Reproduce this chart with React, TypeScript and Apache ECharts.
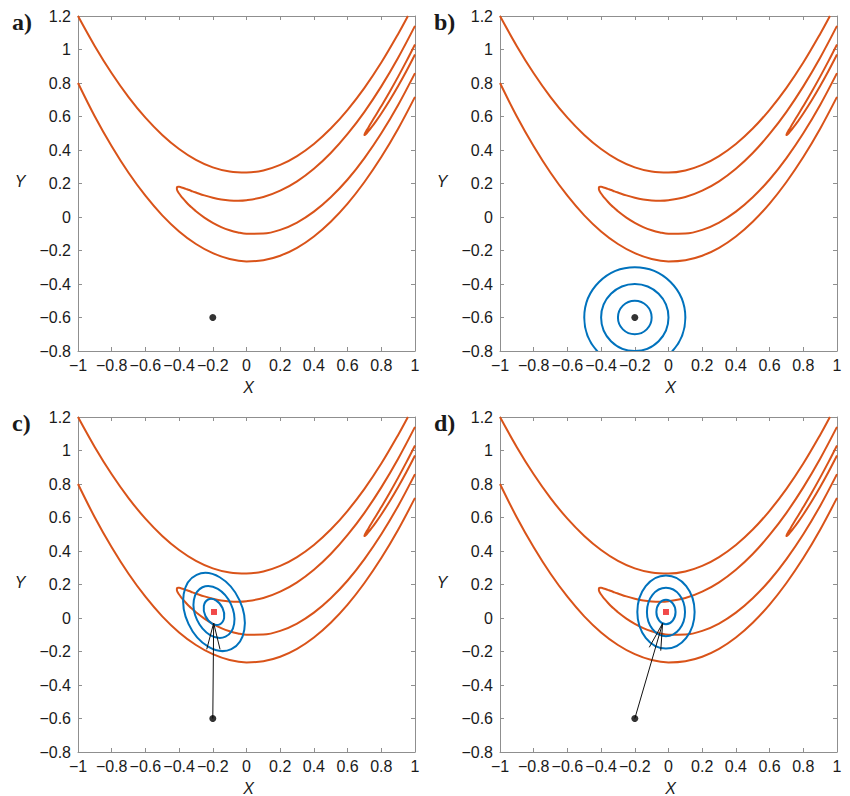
import React, { useEffect, useRef } from 'react';
import * as echarts from 'echarts';

// ---- axis ranges / ticks ----
const X_MIN = -1;
const X_MAX = 1;
const Y_MIN = -0.8;
const Y_MAX = 1.2;
const TICK_STEP = 0.2;
const PANEL_LABELS = ['a)', 'b)', 'c)', 'd)'];

// ---- red contour curves ----
const OUTER_UPPER: number[][] = [
  [-1, 1.2], [-0.9, 1.02], [-0.8, 0.858], [-0.7, 0.716], [-0.6, 0.593], [-0.5, 0.49],
  [-0.4, 0.406], [-0.3, 0.341], [-0.2, 0.296], [-0.1, 0.271], [0, 0.265], [0.1, 0.278],
  [0.2, 0.311], [0.3, 0.364], [0.4, 0.436], [0.5, 0.528], [0.6, 0.64], [0.7, 0.771],
  [0.8, 0.922], [0.9, 1.093], [0.958, 1.2],
];
const OUTER_LOWER: number[][] = [
  [-1, 0.8], [-0.9, 0.6], [-0.8, 0.422], [-0.7, 0.264], [-0.6, 0.127], [-0.5, 0.01],
  [-0.4, -0.086], [-0.3, -0.161], [-0.2, -0.216], [-0.1, -0.251], [0, -0.265], [0.1, -0.258],
  [0.2, -0.231], [0.3, -0.184], [0.4, -0.116], [0.5, -0.028], [0.6, 0.08], [0.7, 0.209],
  [0.8, 0.358], [0.9, 0.527], [1, 0.717],
];
const INNER: number[][] = [
  [1, 1.141], [0.9, 0.951], [0.8, 0.78], [0.7, 0.628], [0.6, 0.496], [0.5, 0.382],
  [0.4, 0.288], [0.3, 0.213], [0.2, 0.157], [0.1, 0.119], [0, 0.1], [-0.05, 0.097],
  [-0.1, 0.099], [-0.15, 0.105], [-0.2, 0.115], [-0.25, 0.129], [-0.3, 0.146], [-0.32, 0.153],
  [-0.34, 0.161], [-0.36, 0.168], [-0.38, 0.175], [-0.39, 0.178], [-0.4, 0.18], [-0.405, 0.18],
  [-0.41, 0.179], [-0.413, 0.176], [-0.4142, 0.172], [-0.413, 0.165], [-0.41, 0.157],
  [-0.405, 0.148], [-0.4, 0.14], [-0.39, 0.126], [-0.38, 0.114], [-0.36, 0.091], [-0.34, 0.07],
  [-0.32, 0.052], [-0.3, 0.034], [-0.25, -0.004], [-0.2, -0.035], [-0.15, -0.06], [-0.1, -0.079],
  [-0.05, -0.092], [0, -0.1], [0.1, -0.099], [0.2, -0.077], [0.3, -0.033], [0.4, 0.032],
  [0.5, 0.118], [0.6, 0.224], [0.7, 0.352], [0.8, 0.5], [0.9, 0.669], [1, 0.859],
];
const SMALL: number[][] = [
  [1, 1.03], [0.95, 0.932], [0.9, 0.838], [0.85, 0.748], [0.8, 0.662], [0.77, 0.612],
  [0.74, 0.563], [0.72, 0.529], [0.71, 0.512], [0.705, 0.503], [0.702, 0.496], [0.7, 0.49],
  [0.702, 0.489], [0.705, 0.492], [0.71, 0.496], [0.72, 0.508], [0.74, 0.533], [0.77, 0.574],
  [0.8, 0.618], [0.85, 0.697], [0.9, 0.782], [0.95, 0.873], [1, 0.97],
];

// ---- markers ----
const START_POINT: number[] = [-0.2, -0.6];
const OPTIMUM_C: number[] = [-0.193, 0.036];
const OPTIMUM_D: number[] = [-0.015, 0.036];

// ---- blue level curves: [cx, cy, rx, ry, rotationDeg] ----
const CIRCLES_B: number[][] = [
  [-0.2, -0.6, 0.1, 0.1, 0],
  [-0.2, -0.6, 0.2, 0.2, 0],
  [-0.2, -0.6, 0.3, 0.3, 0],
];
const ELLIPSES_C: number[][] = [
  [-0.193, 0.036, 0.056, 0.082, 25],
  [-0.193, 0.036, 0.111, 0.163, 25],
  [-0.193, 0.036, 0.167, 0.245, 25],
];
const ELLIPSES_D: number[][] = [
  [-0.015, 0.036, 0.057, 0.073, 0],
  [-0.015, 0.036, 0.113, 0.145, 0],
  [-0.015, 0.036, 0.17, 0.218, 0],
];

// ---- arrows ----
const ARROW_C_SHAFT: number[][] = [[-0.2, -0.6], [-0.195, -0.03]];
const ARROW_C_HEAD: number[][] = [[-0.236, -0.187], [-0.195, -0.03], [-0.157, -0.187]];
const ARROW_D_SHAFT: number[][] = [[-0.2, -0.6], [-0.035, -0.032]];
const ARROW_D_HEAD: number[][] = [[-0.114, -0.175], [-0.035, -0.032], [-0.046, -0.195]];

const RED = '#D95319';
const BLUE = '#0072BD';
const FRAME = '#8f8f8f';
const TEXT = '#1a1a1a';
const FONT = '"Liberation Sans", Arial, Helvetica, sans-serif';

const GRIDS = [
  { left: 78, top: 16 },
  { left: 500, top: 16 },
  { left: 78, top: 417 },
  { left: 500, top: 417 },
];
const GW = 337;
const GH = 335;

const fmt = (v: number) => {
  const r = Math.round(v * 10) / 10;
  return r < 0 ? '\u2212' + String(-r) : String(r);
};

export default function App() {
  const ref = useRef<HTMLDivElement>(null);

  useEffect(() => {
    if (!ref.current) return;
    const chart = echarts.init(ref.current, undefined, { renderer: 'svg' });

    const grid = GRIDS.map((g) => ({ left: g.left, top: g.top, width: GW, height: GH, show: false }));

    const axisCommon = {
      type: 'value',
      axisLine: { show: true, onZero: false, lineStyle: { color: FRAME, width: 1 } },
      axisTick: { show: true, inside: true, length: 4, lineStyle: { color: FRAME } },
      splitLine: { show: false },
      interval: TICK_STEP,
    };
    const labelStyle = { color: TEXT, fontSize: 16, fontFamily: FONT, formatter: fmt };

    const xAxis: any[] = [];
    const yAxis: any[] = [];
    for (let i = 0; i < 4; i++) {
      xAxis.push({ ...axisCommon, gridIndex: i, min: X_MIN, max: X_MAX, position: 'bottom', axisLabel: { ...labelStyle, margin: 6 } });
    }
    for (let i = 0; i < 4; i++) {
      xAxis.push({ ...axisCommon, gridIndex: i, min: X_MIN, max: X_MAX, position: 'top', axisLabel: { show: false } });
    }
    for (let i = 0; i < 4; i++) {
      yAxis.push({ ...axisCommon, gridIndex: i, min: Y_MIN, max: Y_MAX, position: 'left', axisLabel: { ...labelStyle, margin: 7 } });
    }
    for (let i = 0; i < 4; i++) {
      yAxis.push({ ...axisCommon, gridIndex: i, min: Y_MIN, max: Y_MAX, position: 'right', axisLabel: { show: false } });
    }

    const series: any[] = [];
    const contourLine = (data: number[][], i: number) => ({
      type: 'line', xAxisIndex: i, yAxisIndex: i, data, symbol: 'none', silent: true, smooth: 0.35,
      lineStyle: { color: RED, width: 2 }, z: 2,
    });
    const ellipseSeries = (data: number[][], i: number) => ({
      type: 'custom', xAxisIndex: i, yAxisIndex: i, data, clip: true, silent: true, z: 3,
      encode: { x: 0, y: 1 },
      renderItem: (_p: any, api: any) => {
        const c = api.coord([api.value(0), api.value(1)]);
        const s = api.size([api.value(2), api.value(3)]);
        return {
          type: 'ellipse',
          x: c[0], y: c[1],
          rotation: (api.value(4) * Math.PI) / 180,
          shape: { cx: 0, cy: 0, rx: s[0], ry: s[1] },
          style: { fill: 'none', stroke: BLUE, lineWidth: 2 },
        };
      },
    });
    const arrowLine = (data: number[][], i: number) => ({
      type: 'line', xAxisIndex: i, yAxisIndex: i, data, symbol: 'none', silent: true,
      lineStyle: { color: '#111111', width: 1 }, z: 4,
    });
    const point = (p: number[], i: number, shape: string, size: number, color: string) => ({
      type: 'scatter', xAxisIndex: i, yAxisIndex: i, data: [p], symbol: shape, symbolSize: size,
      itemStyle: { color }, silent: true, z: 5,
    });

    for (let i = 0; i < 4; i++) {
      series.push(contourLine(OUTER_UPPER, i));
      series.push(contourLine(OUTER_LOWER, i));
      series.push(contourLine(INNER, i));
      series.push(contourLine(SMALL, i));
    }
    series.push(ellipseSeries(CIRCLES_B, 1));
    series.push(ellipseSeries(ELLIPSES_C, 2));
    series.push(ellipseSeries(ELLIPSES_D, 3));
    series.push(arrowLine(ARROW_C_SHAFT, 2));
    series.push(arrowLine(ARROW_C_HEAD, 2));
    series.push(arrowLine(ARROW_D_SHAFT, 3));
    series.push(arrowLine(ARROW_D_HEAD, 3));
    for (let i = 0; i < 4; i++) series.push(point(START_POINT, i, 'circle', 7, '#000000'));
    series.push(point(OPTIMUM_C, 2, 'rect', 6, '#ee1c1c'));
    series.push(point(OPTIMUM_D, 3, 'rect', 6, '#ee1c1c'));

    const graphic: any[] = [];
    const txt = (text: string, x: number, y: number, font: string, align = 'center') => ({
      type: 'text', x, y, silent: true,
      style: { text, font, fill: TEXT, align, verticalAlign: 'middle', textAlign: align, textVerticalAlign: 'middle' },
    });
    GRIDS.forEach((g, i) => {
      graphic.push(txt(PANEL_LABELS[i], g.left - 66, g.top + 6, 'bold 24px "Liberation Serif", "Times New Roman", serif', 'left'));
      graphic.push(txt('X', g.left + GW / 2 + 2, g.top + GH + 36, 'italic 16px ' + FONT));
      graphic.push(txt('Y', g.left - 58, g.top + 165, 'italic 16px ' + FONT));
    });

    chart.setOption({ animation: false, grid, xAxis, yAxis, series, graphic });
    return () => chart.dispose();
  }, []);

  return <div ref={ref} style={{ position: 'absolute', left: 0, top: 0, width: 850, height: 796, background: '#fff' }} />;
}
